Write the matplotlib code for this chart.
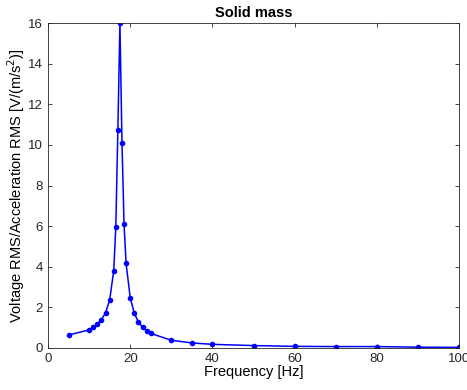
import matplotlib
matplotlib.use("Agg")
import matplotlib.pyplot as plt

freq = [5, 10, 11, 12, 13, 14, 15, 16, 16.5, 17, 17.5, 18, 18.5, 19, 20,
        21, 22, 23, 24, 25, 30, 35, 40, 50, 60, 70, 80, 90, 100]
ratio = [0.64, 0.89, 1.02, 1.18, 1.39, 1.74, 2.36, 3.81, 5.98, 10.74, 16.0,
         10.11, 6.09, 4.17, 2.48, 1.71, 1.28, 1.02, 0.85, 0.72, 0.38, 0.25,
         0.18, 0.12, 0.08, 0.07, 0.07, 0.04, 0.03]

plt.rcParams['font.family'] = ['Liberation Sans', 'DejaVu Sans']
plt.rcParams['font.size'] = 9

fig = plt.figure(figsize=(4.67, 3.9), dpi=100)
ax = fig.add_axes([48 / 467, 1 - 348 / 390, 411 / 467, 325 / 390])
ax.plot(freq, ratio, color='blue', marker='o', markersize=3, linewidth=1.1)
ax.set_xlim(0, 100)
ax.set_ylim(0, 16)
ax.set_xticks(range(0, 101, 20))
ax.set_yticks(range(0, 17, 2))
ax.tick_params(direction='in', top=True, right=True, length=3, width=0.6,
               colors='#262626', labelsize=9.5)
for s in ax.spines.values():
    s.set_linewidth(0.6)
    s.set_color('#262626')
ax.set_xlabel("Frequency [Hz]", fontsize=10.5, labelpad=0)
ax.set_ylabel("Voltage RMS/Acceleration RMS [V/(m/s$^2$)]", fontsize=10.5, labelpad=1)
ax.set_title("Solid mass", fontweight='bold', fontsize=10.5, pad=4)

fig.savefig("out.png", dpi=100)
